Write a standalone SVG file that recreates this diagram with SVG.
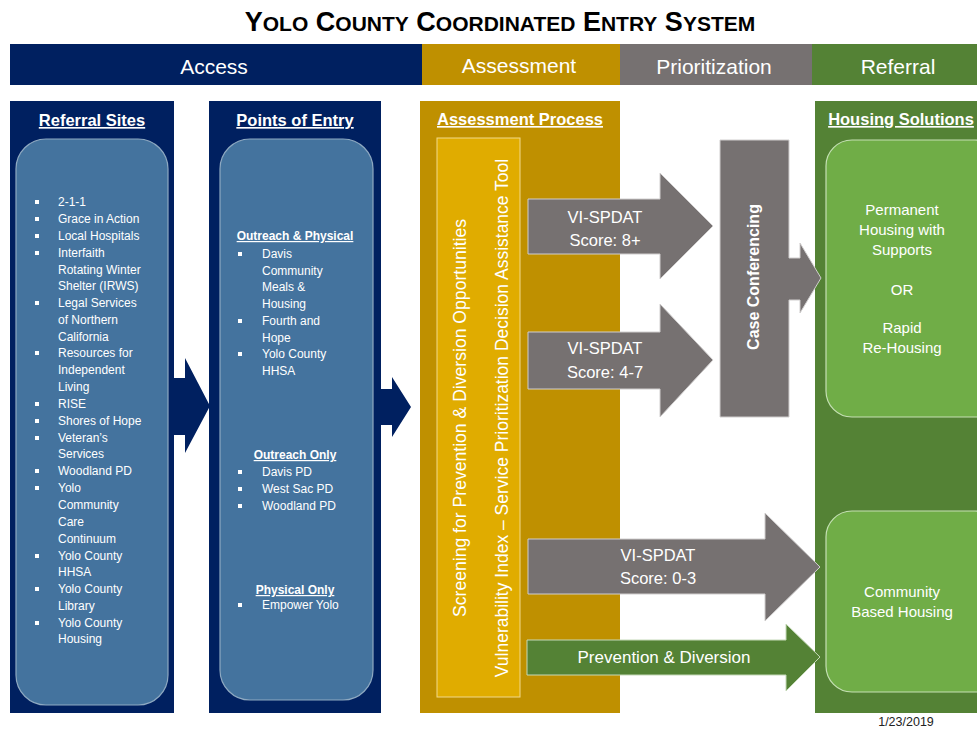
<svg xmlns="http://www.w3.org/2000/svg" width="977" height="732" viewBox="0 0 977 732">
<style>
text{font-family:"Liberation Sans",Arial,sans-serif;fill:#fff}
.hdr{font-size:21px;text-anchor:middle}
.ttl{font-size:16.5px;font-weight:bold;text-anchor:middle;text-decoration:underline}
.li{font-size:12px}
.sub{font-size:12px;font-weight:bold;text-anchor:middle;text-decoration:underline}
.blt{fill:#fff}
.arr{font-size:16.5px;text-anchor:middle}
.hs{font-size:15px;text-anchor:middle}
.gray{fill:#767171;stroke:#D0CECE;stroke-width:1}
.navyA{fill:#002060}
.inner{fill:#44739E;stroke:#8EA9C1;stroke-width:1.2}
.ginner{fill:#70AD47;stroke:#C5E0B4;stroke-width:1.2}
</style>
<rect width="977" height="732" fill="#fff"/>
<g id="title">
<text x="500" y="31" text-anchor="middle" style="fill:#000;font-weight:bold;font-size:27px"><tspan>Y</tspan><tspan font-size="21">OLO</tspan> <tspan>C</tspan><tspan font-size="21">OUNTY</tspan> <tspan>C</tspan><tspan font-size="21">OORDINATED</tspan> <tspan>E</tspan><tspan font-size="21">NTRY</tspan> <tspan>S</tspan><tspan font-size="21">YSTEM</tspan></text>
</g>
<g id="header">
<rect x="10" y="44" width="412" height="41" fill="#002060"/>
<rect x="422" y="44" width="198" height="41" fill="#BF9000"/>
<rect x="620" y="44" width="192" height="41" fill="#767171"/>
<rect x="812" y="44" width="165" height="41" fill="#548235"/>
<text class="hdr" x="214" y="74">Access</text>
<text class="hdr" x="519" y="73">Assessment</text>
<text class="hdr" x="714" y="74">Prioritization</text>
<text class="hdr" x="898" y="74">Referral</text>
</g>
<g id="referral-sites">
<rect x="10" y="101" width="164" height="612" fill="#002060"/>
<text class="ttl" x="92" y="126">Referral Sites</text>
<rect class="inner" x="16" y="139" width="152" height="566" rx="30"/>
<g class="li">
<text x="58" y="206">2-1-1</text>
<text x="58" y="223">Grace in Action</text>
<text x="58" y="240">Local Hospitals</text>
<text x="58" y="257">Interfaith</text>
<text x="58" y="274">Rotating Winter</text>
<text x="58" y="290">Shelter (IRWS)</text>
<text x="58" y="307">Legal Services</text>
<text x="58" y="324">of Northern</text>
<text x="58" y="341">California</text>
<text x="58" y="357">Resources for</text>
<text x="58" y="374">Independent</text>
<text x="58" y="391">Living</text>
<text x="58" y="408">RISE</text>
<text x="58" y="425">Shores of Hope</text>
<text x="58" y="442">Veteran’s</text>
<text x="58" y="458">Services</text>
<text x="58" y="475">Woodland PD</text>
<text x="58" y="492">Yolo</text>
<text x="58" y="509">Community</text>
<text x="58" y="526">Care</text>
<text x="58" y="543">Continuum</text>
<text x="58" y="560">Yolo County</text>
<text x="58" y="576">HHSA</text>
<text x="58" y="593">Yolo County</text>
<text x="58" y="610">Library</text>
<text x="58" y="627">Yolo County</text>
<text x="58" y="643">Housing</text>
</g>
<g class="blt">
<rect x="35" y="200" width="4" height="4"/>
<rect x="35" y="217" width="4" height="4"/>
<rect x="35" y="234" width="4" height="4"/>
<rect x="35" y="251" width="4" height="4"/>
<rect x="35" y="301" width="4" height="4"/>
<rect x="35" y="351" width="4" height="4"/>
<rect x="35" y="402" width="4" height="4"/>
<rect x="35" y="419" width="4" height="4"/>
<rect x="35" y="436" width="4" height="4"/>
<rect x="35" y="469" width="4" height="4"/>
<rect x="35" y="486" width="4" height="4"/>
<rect x="35" y="554" width="4" height="4"/>
<rect x="35" y="587" width="4" height="4"/>
<rect x="35" y="621" width="4" height="4"/>
</g>
</g>
<g id="points-of-entry">
<rect x="209" y="101" width="172" height="612" fill="#002060"/>
<text class="ttl" x="295" y="126">Points of Entry</text>
<rect class="inner" x="220" y="139" width="153" height="561" rx="30"/>
<text class="sub" x="295" y="240">Outreach &amp; Physical</text>
<g class="li">
<text x="262" y="258">Davis</text>
<text x="262" y="275">Community</text>
<text x="262" y="291">Meals &amp;</text>
<text x="262" y="308">Housing</text>
<text x="262" y="325">Fourth and</text>
<text x="262" y="342">Hope</text>
<text x="262" y="358">Yolo County</text>
<text x="262" y="375">HHSA</text>
<text x="262" y="476">Davis PD</text>
<text x="262" y="493">West Sac PD</text>
<text x="262" y="510">Woodland PD</text>
<text x="262" y="609">Empower Yolo</text>
</g>
<text class="sub" x="295" y="459">Outreach Only</text>
<text class="sub" x="295" y="594">Physical  Only</text>
<g class="blt">
<rect x="238" y="252" width="4" height="4"/>
<rect x="238" y="319" width="4" height="4"/>
<rect x="238" y="352" width="4" height="4"/>
<rect x="238" y="470" width="4" height="4"/>
<rect x="238" y="487" width="4" height="4"/>
<rect x="238" y="504" width="4" height="4"/>
<rect x="238" y="603" width="4" height="4"/>
</g>
</g>
<g id="assessment-process">
<rect x="420" y="101" width="200" height="612" fill="#BF9000"/>
<text class="ttl" x="520" y="125">Assessment Process</text>
<rect x="437" y="138" width="83" height="559" fill="#E0AC00" stroke="#F2D98C" stroke-width="1"/>
<text transform="translate(460,418) rotate(-90)" text-anchor="middle" dominant-baseline="central" font-size="17.6">Screening for Prevention &amp; Diversion Opportunities</text>
<text transform="translate(502,418) rotate(-90)" text-anchor="middle" dominant-baseline="central" font-size="17.5">Vulnerability Index – Service Prioritization Decision Assistance Tool</text>
</g>
<g id="housing-solutions">
<rect x="815" y="101" width="162" height="612" fill="#548235"/>
<text class="ttl" x="901" y="125">Housing Solutions</text>
</g>
<g id="connectors">
<polygon class="navyA" points="174,378 185,378 185,358 210,406 185,453 185,435 174,435"/>
<polygon class="navyA" points="381,389 392,389 392,377 411,407 392,437 392,425 381,425"/>
<polygon class="gray" points="528,199 660,199 660,173 713,226 660,279 660,254 528,254"/>
<polygon class="gray" points="528,332 660,332 660,304 713,360 660,417 660,389 528,389"/>
<polygon class="gray" points="528,539 765,539 765,513 820,567 765,621 765,594 528,594"/>
<polygon points="527,640 786,640 786,624 820,657 786,691 786,675 527,675" fill="#548235" stroke="#C5D9B8" stroke-width="1"/>
<text class="arr" x="605" y="223">VI-SPDAT</text>
<text class="arr" x="605" y="246">Score: 8+</text>
<text class="arr" x="605" y="354">VI-SPDAT</text>
<text class="arr" x="605" y="378">Score: 4-7</text>
<text class="arr" x="658" y="561">VI-SPDAT</text>
<text class="arr" x="658" y="584">Score: 0-3</text>
<text x="664" y="663" text-anchor="middle" font-size="17">Prevention &amp; Diversion</text>
</g>
<g id="case-conferencing">
<polygon class="gray" points="720,140 789,140 789,258 800,258 800,243 821,278 800,313 800,300 789,300 789,417 720,417"/>
<text transform="translate(753,277) rotate(-90)" text-anchor="middle" dominant-baseline="central" font-size="16" font-weight="bold">Case Conferencing</text>
</g>
<g id="permanent-housing">
<rect class="ginner" x="826" y="140" width="175" height="277" rx="26"/>
<text class="hs" x="902" y="215">Permanent</text>
<text class="hs" x="902" y="235">Housing with</text>
<text class="hs" x="902" y="255">Supports</text>
<text class="hs" x="902" y="295">OR</text>
<text class="hs" x="902" y="333">Rapid</text>
<text class="hs" x="902" y="353">Re-Housing</text>
</g>
<g id="community-housing">
<rect class="ginner" x="826" y="511" width="175" height="181" rx="26"/>
<text class="hs" x="902" y="597">Community</text>
<text class="hs" x="902" y="617">Based Housing</text>
</g>
<text x="906" y="726" text-anchor="middle" font-size="12.5" style="fill:#222">1/23/2019</text>
</svg>
